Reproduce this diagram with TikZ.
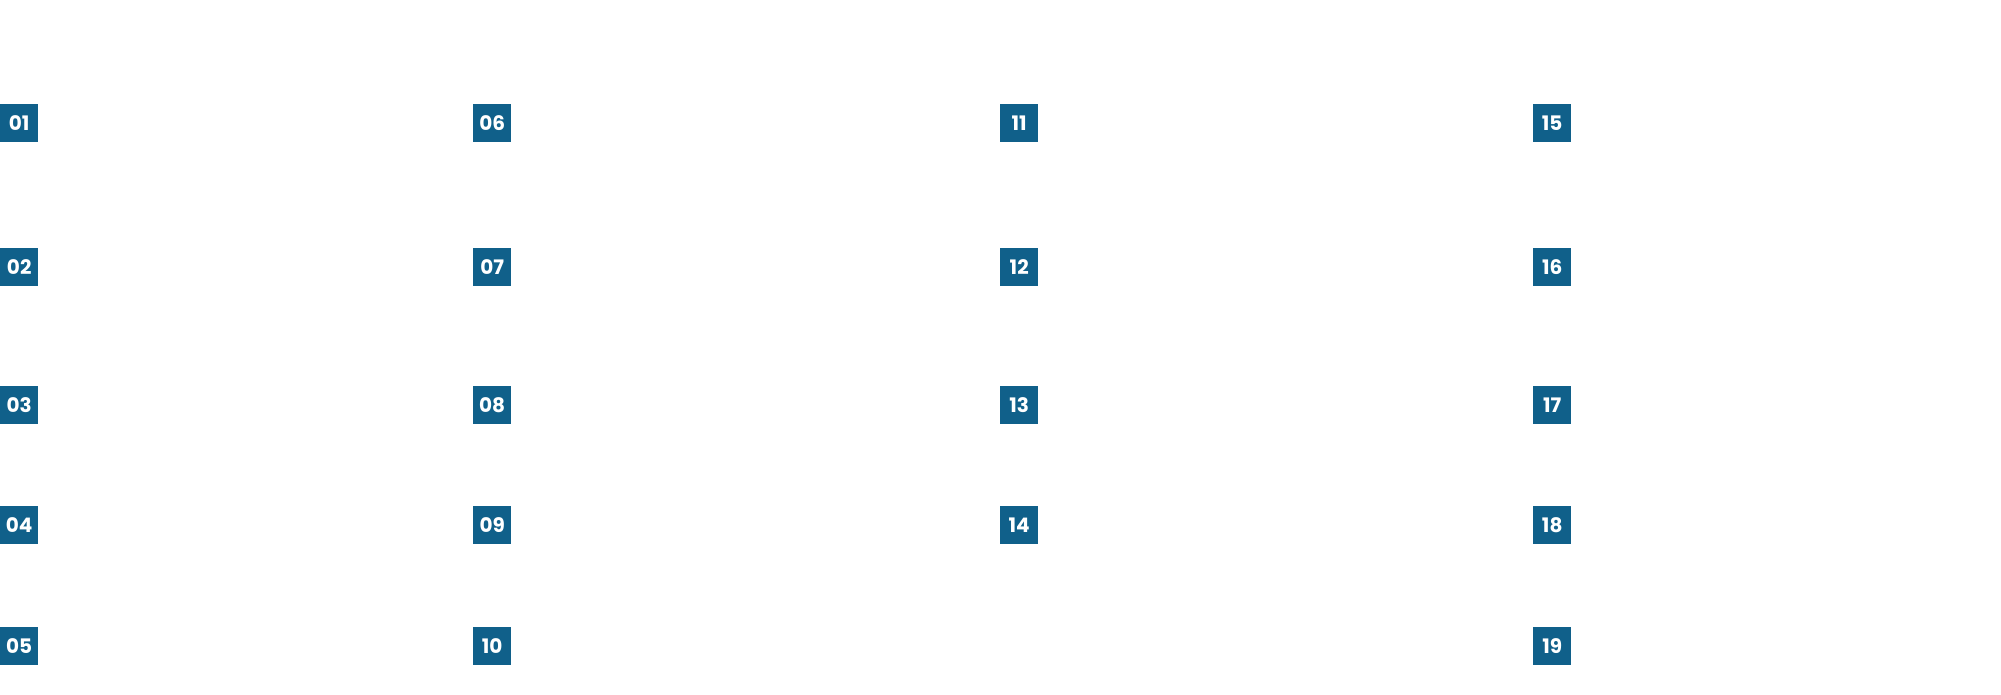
\documentclass[tikz,border=0pt]{standalone}
\usepackage{fontspec}
\setmainfont{Poppins}
\definecolor{numblue}{HTML}{10608A}
\begin{document}
\begin{tikzpicture}[x=1pt,y=-1pt,
  numbox/.style={fill=numblue,text=white,minimum size=38pt,inner sep=0pt,anchor=north west,font=\fontsize{20}{20}\selectfont\bfseries}]
\useasboundingbox (0,0) rectangle (2001,695);
\node[numbox] (n01) at (0,104) {01};
\node[numbox] (n02) at (0,248) {02};
\node[numbox] (n03) at (0,386) {03};
\node[numbox] (n04) at (0,506) {04};
\node[numbox] (n05) at (0,627) {05};
\node[numbox] (n06) at (473,104) {06};
\node[numbox] (n07) at (473,248) {07};
\node[numbox] (n08) at (473,386) {08};
\node[numbox] (n09) at (473,506) {09};
\node[numbox] (n10) at (473,627) {10};
\node[numbox] (n11) at (1000,104) {11};
\node[numbox] (n12) at (1000,248) {12};
\node[numbox] (n13) at (1000,386) {13};
\node[numbox] (n14) at (1000,506) {14};
\node[numbox] (n15) at (1533,104) {15};
\node[numbox] (n16) at (1533,248) {16};
\node[numbox] (n17) at (1533,386) {17};
\node[numbox] (n18) at (1533,506) {18};
\node[numbox] (n19) at (1533,627) {19};
\end{tikzpicture}
\end{document}
